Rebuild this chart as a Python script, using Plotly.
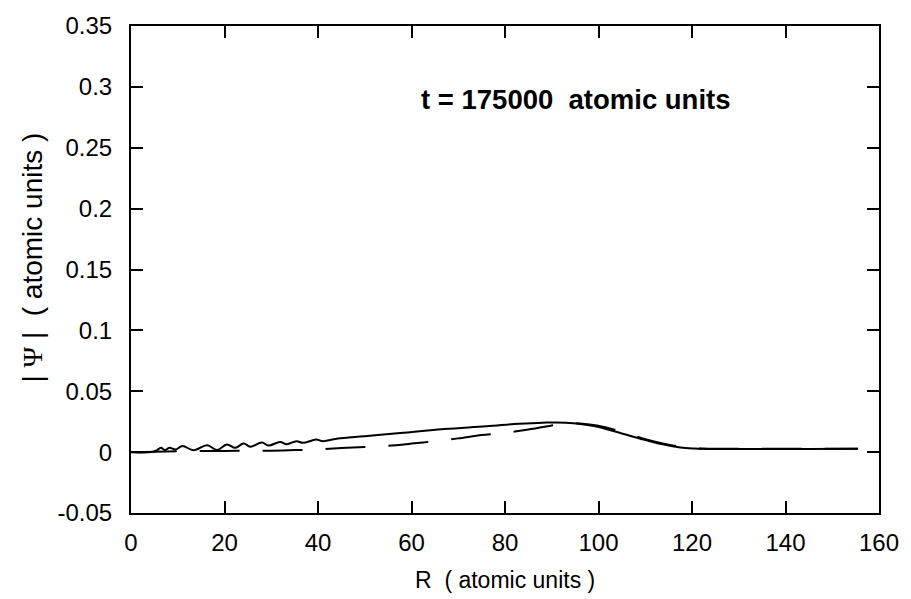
import plotly.graph_objects as go

# |Psi| along R at t = 175000 a.u. (solid: full wavefunction, dashed: comparison curve)
solid_R = [0, 4.4, 5.5, 6.4, 7.3, 8.2, 9.6, 11.0, 13.4, 16.3, 18.4, 20.5, 22.3,
           24.1, 25.5, 28.0, 29.4, 31.9, 33.3, 35.4, 36.8, 39.6, 41.1, 44, 50,
           57, 67, 76, 83, 88, 93, 99, 105, 110.5, 114.5, 117.5, 120.5, 125,
           135, 145, 155.5]
solid_psi = [0, 0, 0.0015, 0.0035, 0.0017, 0.0035, 0.0022, 0.0050, 0.0015,
             0.0057, 0.0018, 0.0063, 0.0035, 0.0071, 0.0044, 0.0079, 0.0054,
             0.0084, 0.0065, 0.0090, 0.0076, 0.0103, 0.0090, 0.0110, 0.0131,
             0.0155, 0.0189, 0.0212, 0.0233, 0.0242, 0.0242, 0.0215, 0.0153,
             0.0095, 0.0058, 0.0038, 0.0030, 0.0026, 0.0026, 0.0026, 0.0027]

dashed_R = [1.2, 5, 10, 15, 20, 25, 30, 35, 40, 45, 50, 55, 60, 65, 70, 75,
            80, 85, 90, 93, 96, 100, 105, 110, 115, 120, 130, 140, 155.5]
dashed_psi = [0, 0.0003, 0.0008, 0.0009, 0.0010, 0.0011, 0.0012, 0.0017,
              0.0022, 0.0033, 0.0043, 0.0052, 0.0070, 0.0090, 0.0113, 0.0140,
              0.0158, 0.0185, 0.0218, 0.0238, 0.0236, 0.0217, 0.0167, 0.0106,
              0.0061, 0.0032, 0.0027, 0.0027, 0.0027]

x_ticks = [0, 20, 40, 60, 80, 100, 120, 140, 160]
y_ticks = [-0.05, 0, 0.05, 0.1, 0.15, 0.2, 0.25, 0.3, 0.35]
y_ticklabels = ["-0.05", "0", "0.05", "0.1", "0.15", "0.2", "0.25", "0.3", "0.35"]

FONT = "Liberation Sans, Arial, sans-serif"

fig = go.Figure()
fig.add_trace(go.Scatter(
    x=dashed_R, y=dashed_psi, mode="lines",
    line=dict(color="black", width=2, dash="40px,23px", shape="spline", smoothing=0.8),
    showlegend=False, hoverinfo="skip"))
fig.add_trace(go.Scatter(
    x=solid_R, y=solid_psi, mode="lines",
    line=dict(color="black", width=2, shape="spline", smoothing=1.1),
    showlegend=False, hoverinfo="skip"))

axis_common = dict(
    showline=True, linecolor="black", linewidth=2, mirror="ticks",
    ticks="inside", ticklen=12, tickwidth=1.5, tickcolor="black",
    showgrid=False, zeroline=False,
    tickfont=dict(family=FONT, size=24, color="black"),
)

fig.update_xaxes(range=[0, 160], tickvals=x_ticks, ticklabelstandoff=7, **axis_common)
fig.update_yaxes(range=[-0.05, 0.35], tickvals=y_ticks, ticktext=y_ticklabels,
                 ticklabelstandoff=12, **axis_common)

fig.update_layout(
    width=911, height=599,
    margin=dict(l=131, r=24, t=23, b=86),
    paper_bgcolor="white", plot_bgcolor="white",
    annotations=[
        dict(text="t = 175000  atomic units", x=95.2, y=0.29, xref="x", yref="y",
             showarrow=False, font=dict(family=FONT, size=27.5, color="black"),
             xanchor="center", yanchor="middle"),
        dict(text="R  ( atomic units )", x=0.5, y=-0.138, xref="paper", yref="paper",
             showarrow=False, font=dict(family=FONT, size=23, color="black"),
             xanchor="center", yanchor="middle"),
        dict(text="| <span style=\"font-family:'Liberation Serif', 'Times New Roman', serif\">Ψ</span> |  ( atomic units )",
             x=-0.132, y=0.525, xref="paper", yref="paper", textangle=-90,
             showarrow=False, font=dict(family=FONT, size=28, color="black"),
             xanchor="center", yanchor="middle"),
    ],
)
fig.layout.annotations[0].font.weight = "bold"

fig.write_html("out.html")
